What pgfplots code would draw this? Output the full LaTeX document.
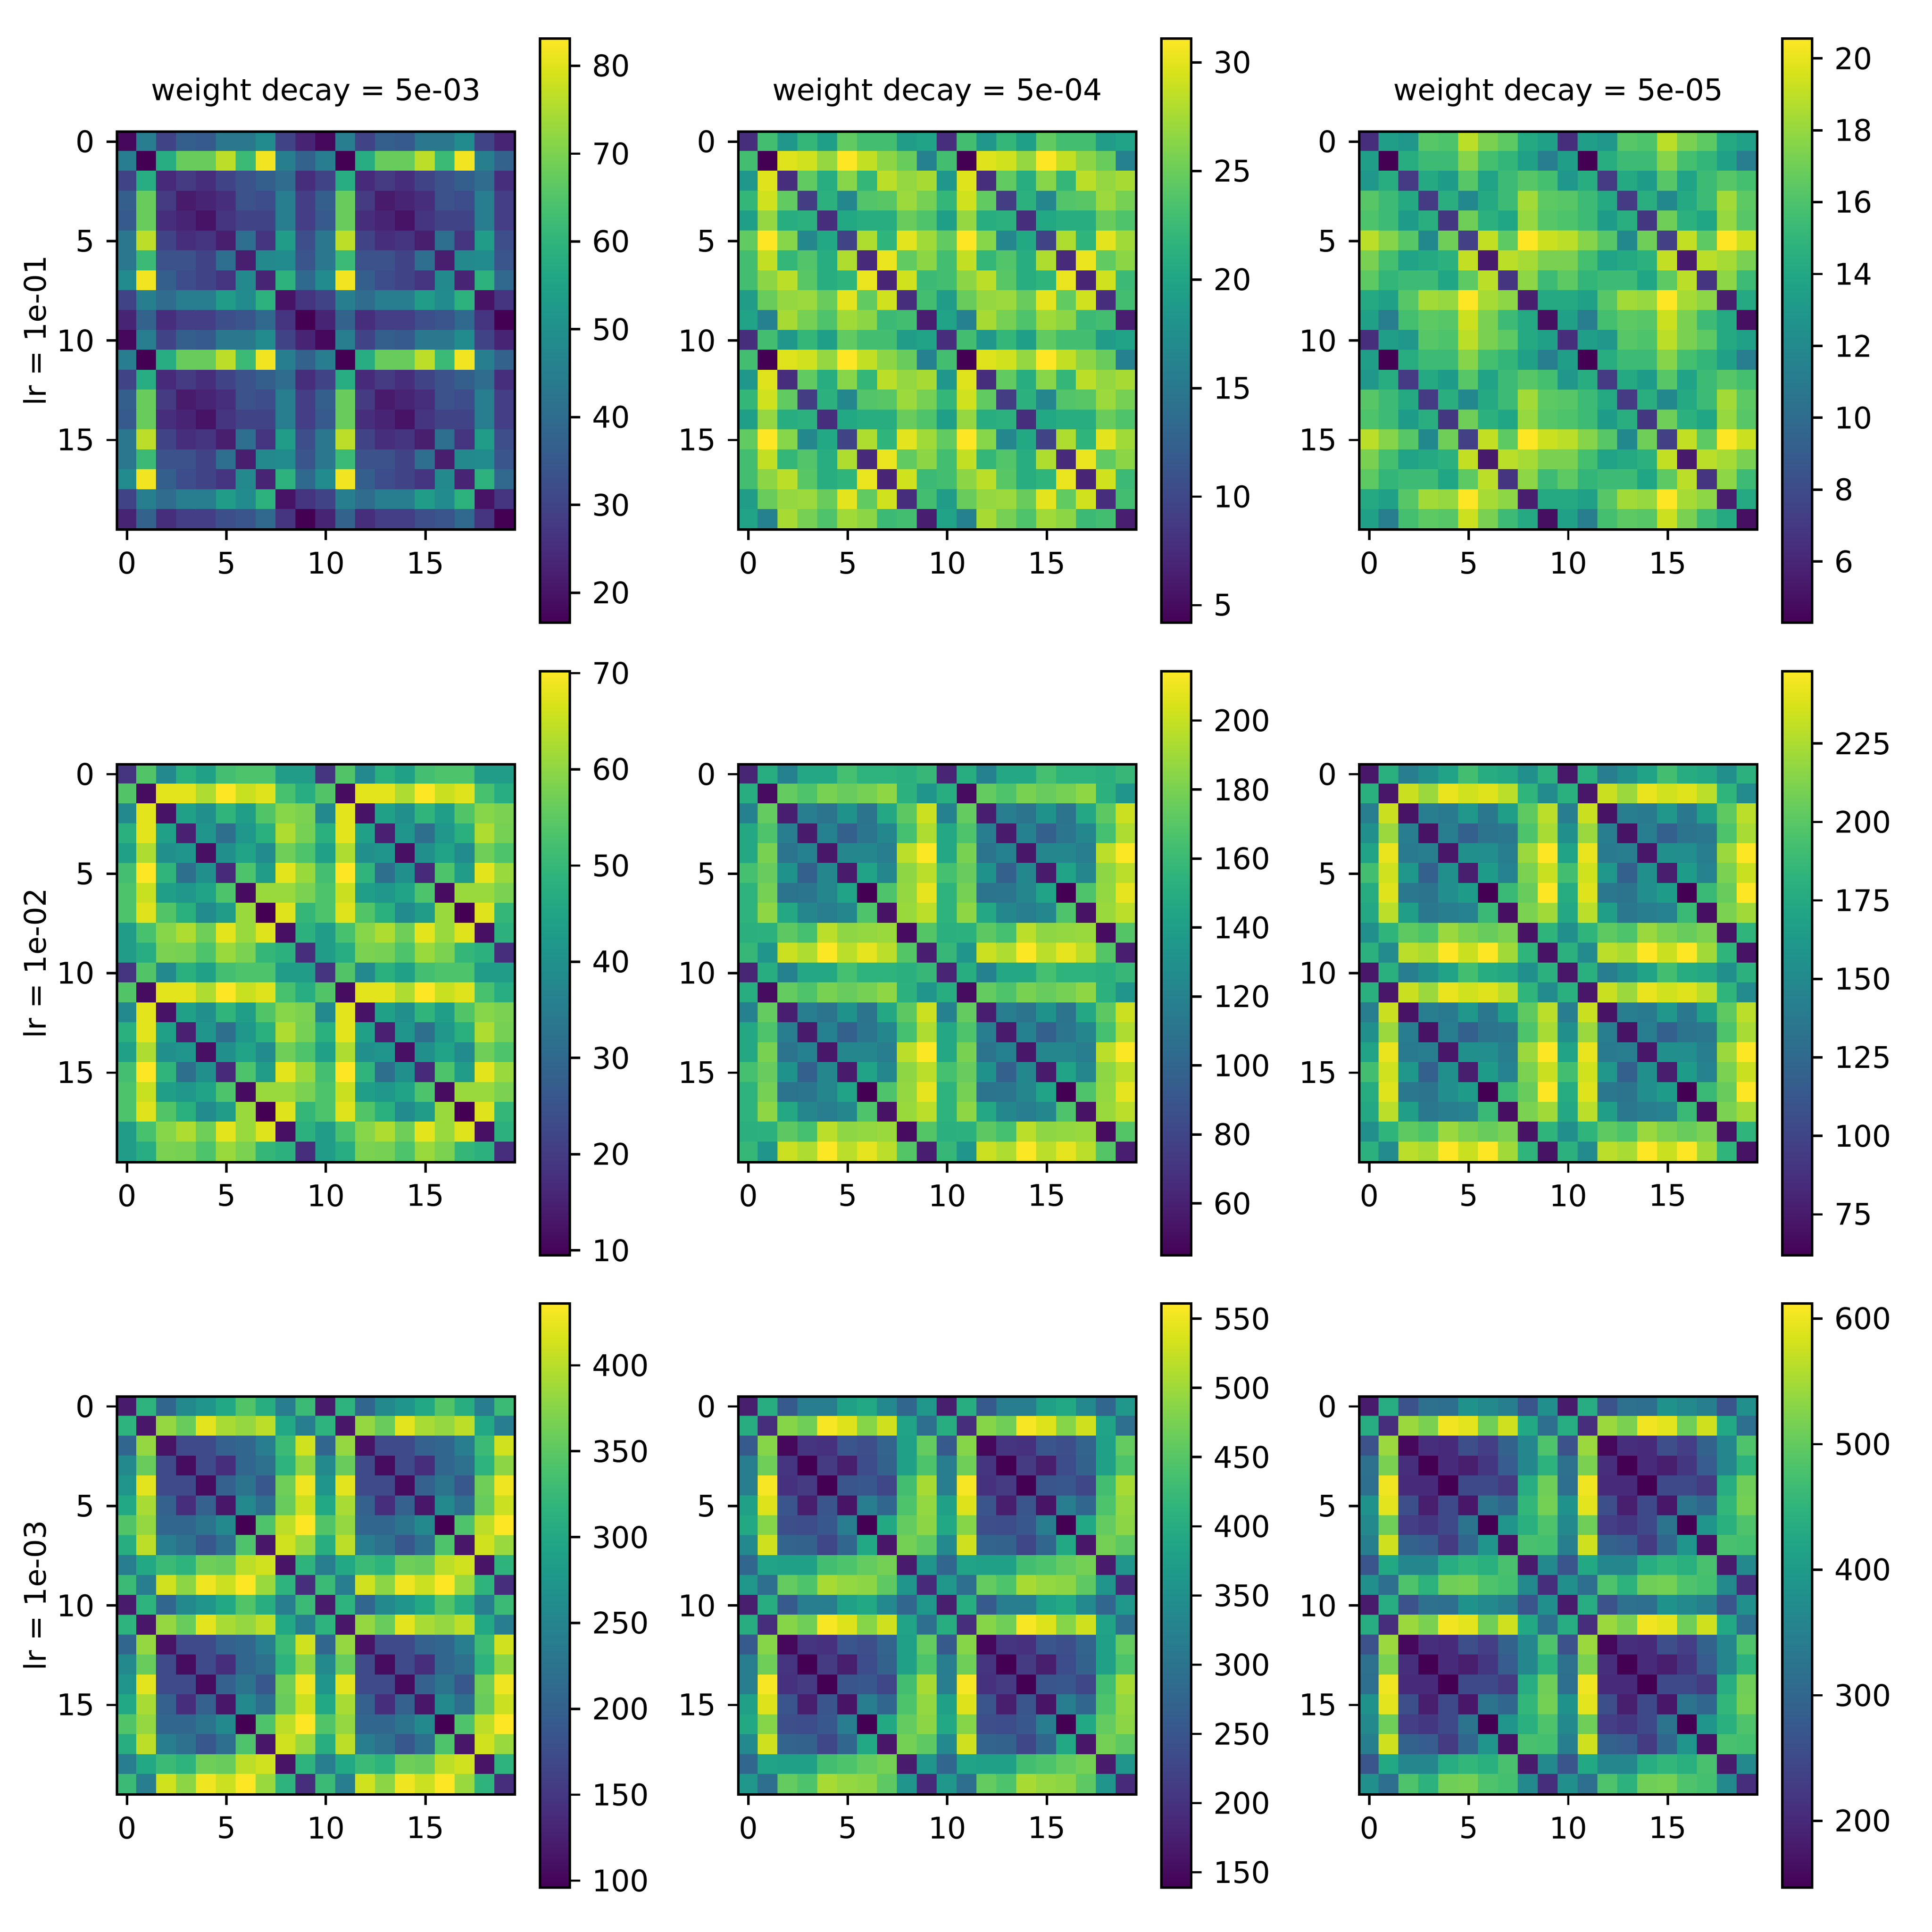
\documentclass[border=0pt]{standalone}
\usepackage{fontspec}
\setmainfont{DejaVu Sans}
\usepackage{pgfplots}
\usepackage{pgfplotstable}
\pgfplotsset{compat=1.18}

% one period of each similarity matrix, row by row (rows 0-9, columns 0-9)
\pgfplotstableread[row sep=crcr]{c\\
17.9\\44.5\\29.9\\36.6\\35.2\\43.2\\43.2\\48.5\\29.9\\23.2\\
44.5\\16.6\\57.8\\67.8\\67.8\\76.5\\61.8\\81.8\\45.2\\37.2\\
29.9\\57.8\\24.6\\27.9\\25.2\\29.9\\33.2\\36.6\\39.9\\25.2\\
36.6\\67.8\\27.9\\21.3\\23.2\\25.2\\33.2\\31.9\\44.5\\28.6\\
35.2\\67.8\\25.2\\23.2\\19.9\\26.6\\29.9\\29.9\\44.5\\28.6\\
43.2\\76.5\\29.9\\25.2\\26.6\\21.9\\40.5\\26.6\\53.2\\32.6\\
43.2\\61.8\\33.2\\33.2\\29.9\\40.5\\21.9\\47.9\\48.5\\33.9\\
48.5\\81.8\\36.6\\31.9\\29.9\\26.6\\47.9\\23.2\\59.2\\39.2\\
29.9\\45.2\\39.9\\44.5\\44.5\\53.2\\48.5\\59.2\\19.9\\26.6\\
23.2\\37.2\\25.2\\28.6\\28.6\\32.6\\33.9\\39.2\\26.6\\16.6\\
}\tabA
\pgfplotstableread[row sep=crcr]{c\\
7.7\\23.0\\18.5\\22.0\\19.3\\24.6\\23.0\\23.0\\19.0\\19.8\\
23.0\\4.2\\29.8\\29.2\\26.8\\31.1\\28.7\\26.5\\24.9\\16.0\\
18.5\\29.8\\7.7\\24.6\\20.9\\26.3\\22.0\\28.4\\26.8\\27.6\\
22.0\\29.2\\24.6\\9.0\\21.4\\16.6\\23.8\\24.1\\27.1\\25.5\\
19.3\\26.8\\20.9\\21.4\\7.7\\20.3\\20.9\\20.9\\24.9\\23.6\\
24.6\\31.1\\26.3\\16.6\\20.3\\9.6\\27.9\\21.7\\30.0\\27.3\\
23.0\\28.7\\22.0\\23.8\\20.9\\27.9\\7.4\\30.3\\24.6\\26.5\\
23.0\\26.5\\28.4\\24.1\\20.9\\21.7\\30.3\\6.9\\29.2\\22.5\\
19.0\\24.9\\26.8\\27.1\\24.9\\30.0\\24.6\\29.2\\7.7\\23.0\\
19.8\\16.0\\27.6\\25.5\\23.6\\27.3\\26.5\\22.5\\23.0\\6.4\\
}\tabB
\pgfplotstableread[row sep=crcr]{c\\
6.4\\13.4\\12.9\\16.3\\16.0\\18.9\\17.3\\16.5\\14.1\\13.6\\
13.4\\4.3\\14.4\\15.4\\15.4\\17.6\\15.7\\15.0\\13.6\\11.1\\
12.9\\14.4\\7.1\\14.1\\13.2\\16.3\\13.7\\15.4\\16.3\\15.7\\
16.3\\15.4\\14.1\\7.1\\14.5\\11.9\\14.1\\15.4\\18.3\\16.5\\
16.0\\15.4\\13.2\\14.5\\6.9\\17.0\\14.7\\13.9\\18.0\\16.3\\
18.9\\17.6\\16.3\\11.9\\17.0\\7.4\\19.1\\16.5\\20.55\\19.3\\
17.3\\15.7\\13.7\\14.1\\14.7\\19.1\\5.4\\18.9\\18.4\\17.3\\
16.5\\15.0\\15.4\\15.4\\13.9\\16.5\\18.9\\6.7\\17.8\\15.4\\
14.1\\13.6\\16.3\\18.3\\18.0\\20.55\\18.4\\17.8\\5.6\\14.1\\
13.6\\11.1\\15.7\\16.5\\16.3\\19.3\\17.3\\15.4\\14.1\\4.9\\
}\tabC
\pgfplotstableread[row sep=crcr]{c\\
18.6\\53.8\\38.0\\47.7\\44.1\\52.0\\53.2\\53.2\\42.9\\42.9\\
53.8\\11.3\\67.8\\67.8\\62.9\\70.2\\65.3\\67.2\\52.6\\47.1\\
38.0\\67.8\\12.5\\44.1\\39.9\\49.0\\43.5\\53.8\\59.3\\58.1\\
47.7\\67.8\\44.1\\15.0\\41.1\\31.4\\41.7\\47.7\\62.9\\57.5\\
44.1\\62.9\\39.9\\41.1\\11.9\\39.9\\44.7\\38.6\\56.8\\53.2\\
52.0\\70.2\\49.0\\31.4\\39.9\\16.8\\53.2\\42.9\\67.8\\61.1\\
53.2\\65.3\\43.5\\41.7\\44.7\\53.2\\11.3\\61.1\\61.1\\58.1\\
53.2\\67.2\\53.8\\47.7\\38.6\\42.9\\61.1\\9.5\\67.2\\49.6\\
42.9\\52.6\\59.3\\62.9\\56.8\\67.8\\61.1\\67.2\\11.9\\48.3\\
42.9\\47.1\\58.1\\57.5\\53.2\\61.1\\58.1\\49.6\\48.3\\17.4\\
}\tabD
\pgfplotstableread[row sep=crcr]{c\\
62\\150\\119\\147\\147\\164\\155\\155\\152\\158\\
150\\50\\174\\167\\180\\175\\179\\186\\153\\133\\
119\\174\\59\\116\\109\\131\\109\\147\\172\\201\\
147\\167\\116\\57\\119\\96\\111\\123\\164\\194\\
147\\180\\109\\119\\55\\123\\123\\116\\197\\214\\
164\\175\\131\\96\\123\\57\\143\\123\\186\\197\\
155\\179\\109\\111\\123\\143\\45\\167\\187\\208\\
155\\186\\147\\123\\116\\123\\167\\53\\189\\197\\
152\\153\\172\\164\\197\\186\\187\\189\\50\\169\\
158\\133\\201\\194\\214\\197\\208\\197\\169\\59\\
}\tabE
\pgfplotstableread[row sep=crcr]{c\\
73\\179\\140\\155\\170\\192\\177\\174\\155\\181\\
179\\73\\233\\220\\242\\235\\239\\229\\183\\151\\
140\\233\\71\\140\\138\\161\\136\\166\\202\\229\\
155\\220\\140\\71\\140\\118\\133\\136\\196\\224\\
170\\242\\138\\140\\73\\155\\153\\140\\220\\248\\
192\\235\\161\\118\\155\\77\\164\\144\\211\\233\\
177\\239\\136\\133\\153\\164\\62\\188\\205\\248\\
174\\229\\166\\136\\140\\144\\188\\69\\211\\222\\
155\\183\\202\\196\\220\\211\\205\\211\\71\\183\\
181\\151\\229\\224\\248\\233\\248\\222\\183\\71\\
}\tabF
\pgfplotstableread[row sep=crcr]{c\\
120\\317\\208\\256\\273\\300\\344\\307\\239\\327\\
317\\116\\382\\358\\422\\392\\382\\402\\300\\239\\
208\\382\\113\\171\\171\\201\\208\\239\\327\\412\\
256\\358\\171\\106\\171\\140\\208\\222\\317\\378\\
273\\422\\171\\171\\106\\201\\225\\188\\361\\429\\
300\\392\\201\\140\\201\\116\\256\\218\\358\\409\\
344\\382\\208\\208\\225\\256\\96\\341\\402\\436\\
307\\402\\239\\222\\188\\218\\341\\116\\412\\385\\
239\\300\\327\\317\\361\\358\\402\\412\\113\\317\\
327\\239\\412\\378\\429\\409\\436\\385\\317\\140\\
}\tabG
\pgfplotstableread[row sep=crcr]{c\\
173\\401\\257\\316\\316\\380\\392\\337\\278\\363\\
401\\194\\485\\468\\557\\540\\485\\531\\384\\291\\
257\\485\\147\\202\\198\\249\\240\\274\\380\\460\\
316\\468\\202\\139\\211\\173\\236\\270\\380\\443\\
316\\557\\198\\211\\139\\249\\253\\228\\434\\506\\
380\\540\\249\\173\\249\\160\\316\\278\\443\\493\\
392\\485\\240\\236\\253\\316\\139\\392\\460\\489\\
337\\531\\274\\270\\228\\278\\392\\164\\472\\456\\
278\\384\\380\\380\\434\\443\\460\\472\\169\\358\\
363\\291\\460\\443\\506\\493\\489\\456\\358\\190\\
}\tabH
\pgfplotstableread[row sep=crcr]{c\\
180\\435\\263\\319\\314\\384\\366\\347\\268\\380\\
435\\207\\542\\519\\603\\593\\510\\579\\426\\314\\
263\\542\\156\\207\\203\\259\\231\\291\\361\\482\\
319\\519\\207\\147\\203\\184\\221\\282\\361\\445\\
314\\603\\203\\203\\147\\249\\249\\226\\435\\510\\
384\\593\\259\\184\\249\\175\\324\\300\\454\\514\\
366\\510\\231\\221\\249\\324\\147\\389\\440\\482\\
347\\579\\291\\282\\226\\300\\389\\170\\477\\473\\
268\\426\\361\\361\\435\\454\\440\\477\\180\\366\\
380\\314\\482\\445\\510\\514\\482\\473\\366\\207\\
}\tabI

% the matrices repeat with period 10, so each is drawn as four tiles
\newcommand{\tile}[3]{\addplot[matrix plot*, point meta=explicit, mesh/cols=10]
  table[x index=0, y index=0, meta=c, x expr={mod(\coordindex,10)+#2}, y expr={floor(\coordindex/10)+#3}] {#1};}
\newcommand{\tiles}[1]{\tile{#1}{0}{0}\tile{#1}{10}{0}\tile{#1}{0}{10}\tile{#1}{10}{10}}

\newcommand{\mpl}{\fontsize{8.92}{11}\selectfont}
\pgfplotsset{
  panel/.style={
    scale only axis, width=1.648in, height=1.648in,
    anchor=south west,
    xmin=-0.5, xmax=19.5, ymin=-0.5, ymax=19.5,
    y dir=reverse,
    xtick={0,5,10,15}, ytick={0,5,10,15},
    xtick pos=lower, xticklabel pos=lower, ytick pos=left,
    tick align=outside, major tick length=3.11bp,
    tick style={black, line width=0.72bp},
    axis line style={line width=0.72bp},
    tick label style={font=\mpl},
    label style={font=\mpl},
    ylabel shift=-3.7pt,
    title style={font=\mpl, yshift=-2pt},
    /pgf/number format/assume math mode=true,
    axis on top,
    colormap/viridis,
    colorbar,
    colorbar style={
      at={(parent axis.east)}, anchor=west, xshift=-0.0139in,
      width=0.1233in, height=2.418in,
      tick align=outside, major tick length=3.11bp,
      tick style={black, line width=0.72bp},
      axis line style={line width=0.72bp},
      tick label style={font=\mpl},
      ytick pos=right, yticklabel pos=right,
      /pgf/number format/assume math mode=true,
    },
  },
}

\begin{document}
\begin{tikzpicture}
\path[use as bounding box] (0,0) rectangle (8in,8in);

\begin{axis}[panel, at={(0.4844in,5.807in)}, title={weight decay = 5e-03}, ylabel={lr = 1e-01},
  point meta min=16.6, point meta max=83.1,
  colorbar style={ytick={20,30,40,50,60,70,80}}]
\tiles{\tabA}
\end{axis}
\begin{axis}[panel, at={(3.0573in,5.807in)}, title={weight decay = 5e-04},
  point meta min=4.2, point meta max=31.1,
  colorbar style={ytick={5,10,15,20,25,30}}]
\tiles{\tabB}
\end{axis}
\begin{axis}[panel, at={(5.6285in,5.807in)}, title={weight decay = 5e-05},
  point meta min=4.3, point meta max=20.55,
  colorbar style={ytick={6,8,10,12,14,16,18,20}}]
\tiles{\tabC}
\end{axis}

\begin{axis}[panel, at={(0.4844in,3.1875in)}, ylabel={lr = 1e-02},
  point meta min=9.5, point meta max=70.2,
  colorbar style={ytick={10,20,30,40,50,60,70}}]
\tiles{\tabD}
\end{axis}
\begin{axis}[panel, at={(3.0573in,3.1875in)},
  point meta min=45, point meta max=214.3,
  colorbar style={ytick={60,80,100,120,140,160,180,200}}]
\tiles{\tabE}
\end{axis}
\begin{axis}[panel, at={(5.6285in,3.1875in)},
  point meta min=62, point meta max=248,
  colorbar style={ytick={75,100,125,150,175,200,225}}]
\tiles{\tabF}
\end{axis}

\begin{axis}[panel, at={(0.4844in,0.5694in)}, ylabel={lr = 1e-03},
  point meta min=96, point meta max=436,
  colorbar style={ytick={100,150,200,250,300,350,400}}]
\tiles{\tabG}
\end{axis}
\begin{axis}[panel, at={(3.0573in,0.5694in)},
  point meta min=139, point meta max=561,
  colorbar style={ytick={150,200,250,300,350,400,450,500,550}}]
\tiles{\tabH}
\end{axis}
\begin{axis}[panel, at={(5.6285in,0.5694in)},
  point meta min=147, point meta max=612,
  colorbar style={ytick={200,300,400,500,600}}]
\tiles{\tabI}
\end{axis}
\end{tikzpicture}
\end{document}
